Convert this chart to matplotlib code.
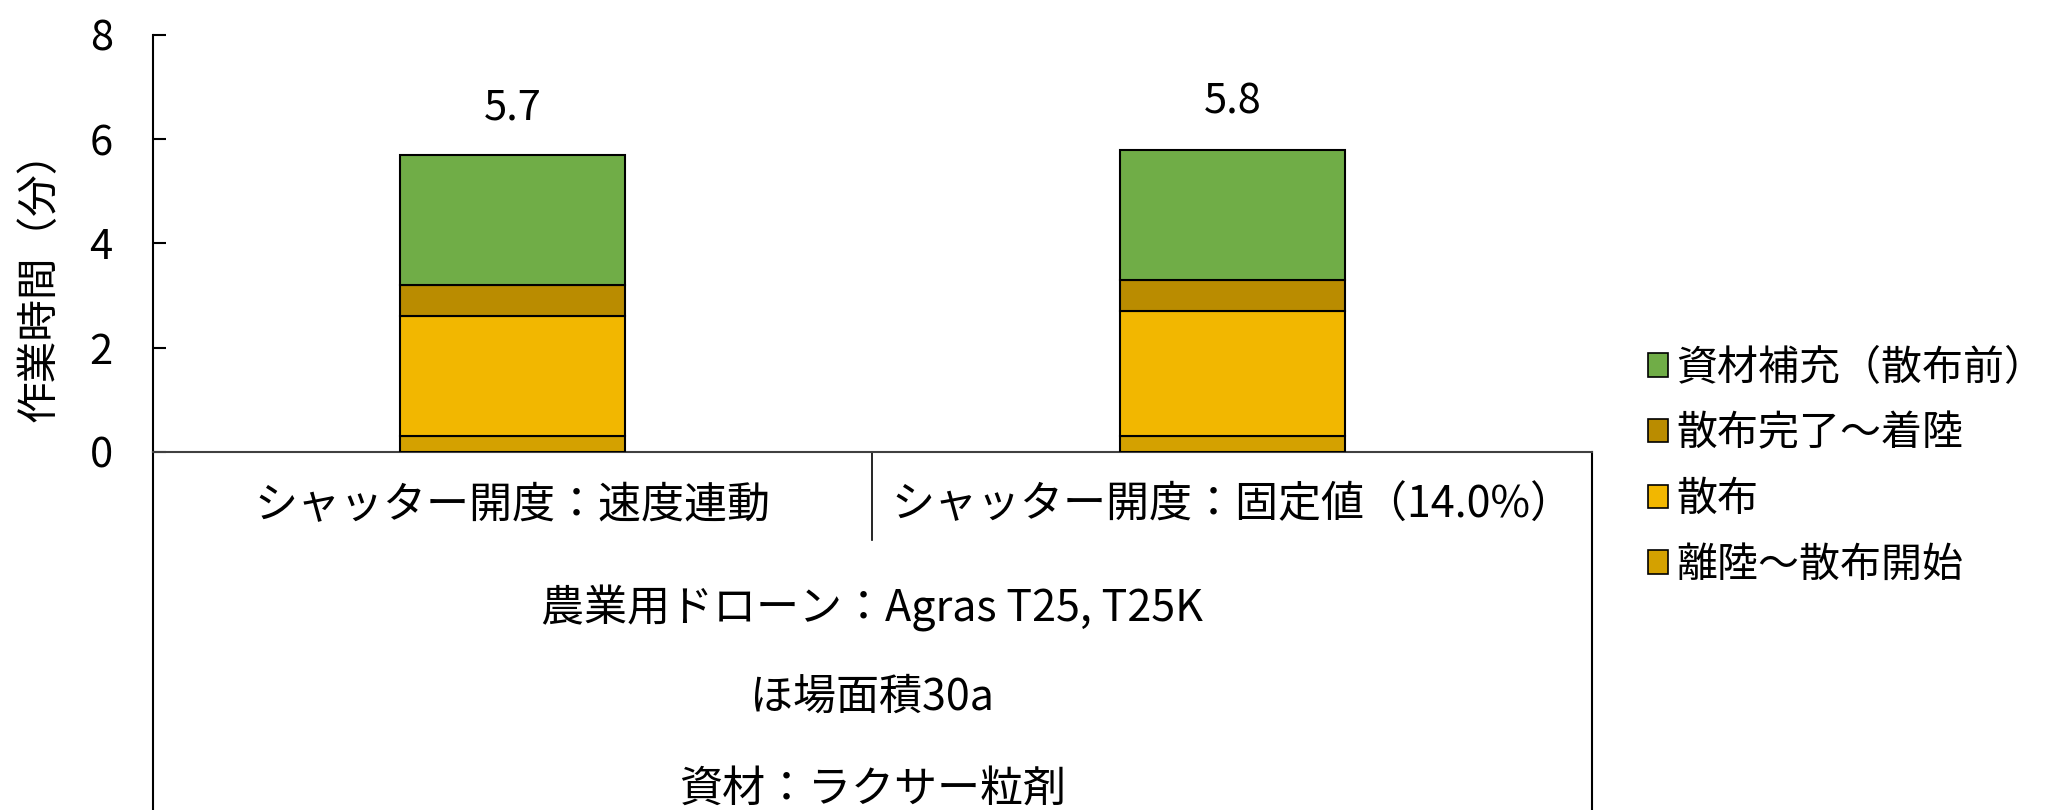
import matplotlib.pyplot as plt
import numpy as np
from matplotlib.patches import Patch
from matplotlib.lines import Line2D

plt.rcParams['font.family'] = ['Noto Sans CJK JP', 'DejaVu Sans']

# 作業時間の内訳（分）
categories = ['シャッター開度：速度連動', 'シャッター開度：固定値（14.0%）']
takeoff = [0.3, 0.3]      # 離陸～散布開始
spraying = [2.3, 2.4]     # 散布
landing = [0.6, 0.6]      # 散布完了～着陸
refill = [2.5, 2.5]       # 資材補充（散布前）
totals = [5.7, 5.8]

group_labels = ['農業用ドローン：Agras T25, T25K', 'ほ場面積30a', '資材：ラクサー粒剤']
series_names = ['離陸～散布開始', '散布', '散布完了～着陸', '資材補充（散布前）']
colors = ['#D4A100', '#F2B700', '#BA8C00', '#70AD47']

fs = 30
fs_cat = 31
fig = plt.figure(figsize=(20.51, 8.10), dpi=100)
ax = fig.add_axes([0.0746, 0.442, 0.7016, 0.5148])

x = np.arange(len(categories))
width = 0.313
bottom = np.zeros(len(categories))
for vals, col, name in zip([takeoff, spraying, landing, refill], colors, series_names):
    ax.bar(x, vals, width, bottom=bottom, color=col, edgecolor='black',
           linewidth=1.5, label=name, zorder=3)
    bottom += np.array(vals)

# 合計値ラベル
for xi, t in zip(x, totals):
    ax.annotate(f'{t:.1f}', (xi, t), xytext=(0, 34), textcoords='offset points',
                ha='center', va='center', fontsize=fs)

ax.set_xlim(-0.5, 1.5)
ax.set_ylim(0, 8)
ax.set_yticks([0, 2, 4, 6, 8])
ax.set_xticks([])
ax.tick_params(axis='y', direction='in', length=9.5, width=1.5, pad=29, labelsize=fs)
for s in ['top', 'right']:
    ax.spines[s].set_visible(False)
ax.spines['left'].set_linewidth(1.5)
ax.spines['bottom'].set_linewidth(1.5)
ax.spines['bottom'].set_color('#404040')

ax.set_ylabel('作業時間（分）', fontsize=fs)
ax.yaxis.set_label_coords(-0.064, 0.422)

# 多段の項目軸
trans = ax.get_xaxis_transform()
for xi, lab in zip(x, categories):
    ax.text(xi, -0.13, lab, transform=trans, ha='center', va='center', fontsize=fs_cat)
for yy, lab in zip([-0.375, -0.59, -0.81], group_labels):
    ax.text(0.5, yy, lab, transform=trans, ha='center', va='center', fontsize=fs_cat)

ax.add_line(Line2D([0.5, 0.5], [0, -0.211], transform=trans, color='black',
                   linewidth=1.2, clip_on=False))
for xe in [-0.5, 1.5]:
    ax.add_line(Line2D([xe, xe], [0, -0.9], transform=trans, color='black',
                       linewidth=1.5, clip_on=False))

handles = [Patch(facecolor=c, edgecolor='black', linewidth=1.2) for c in colors][::-1]
fig.legend(handles, series_names[::-1], loc='upper left',
           bbox_to_anchor=(0.7955, 0.591), frameon=False, fontsize=29.5,
           handlelength=0.5, handleheight=0.5, handletextpad=0.2,
           labelspacing=0.6, borderaxespad=0)

fig.savefig('out.png', dpi=100)
